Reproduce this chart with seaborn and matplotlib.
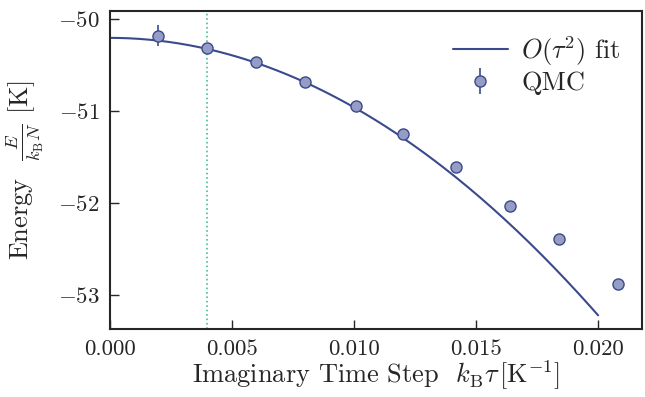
import numpy as np
import pandas as pd
import matplotlib
matplotlib.use('Agg')
import matplotlib.pyplot as plt
import seaborn as sns

# QMC energies vs imaginary time step
tau = [0.0020, 0.0040, 0.0060, 0.0080, 0.0101, 0.0120, 0.0142, 0.0164, 0.0184, 0.0208]
energy = [-50.18, -50.31, -50.47, -50.68, -50.95, -51.25, -51.61, -52.03, -52.39, -52.88]
energy_err = [0.11, 0.03, 0.03, 0.03, 0.03, 0.03, 0.03, 0.03, 0.03, 0.03]

# O(tau^2) fit: E = e0 + c2 * tau^2, drawn up to tau = 0.020
fit_e0 = -50.205
fit_c2 = -7540.0
fit_tau_max = 0.020
tau_chosen = 0.004

sns.set_style('ticks')
plt.rcParams['font.family'] = ['serif']
plt.rcParams['font.serif'] = ['cmr10', 'DejaVu Serif']
plt.rcParams['mathtext.fontset'] = 'cm'
plt.rcParams['axes.formatter.use_mathtext'] = True
plt.rcParams['axes.unicode_minus'] = True

line_col = '#3a4a8c'
fill_col = '#959cc6'

fig = plt.figure(figsize=(6.45, 3.97), dpi=100)
ax = fig.add_axes([0.1698, 0.1705, 0.8257, 0.8025])

tt = np.linspace(0, fit_tau_max, 200)
fit_df = pd.DataFrame({'tau': tt, 'E': fit_e0 + fit_c2 * tt**2})
sns.lineplot(data=fit_df, x='tau', y='E', ax=ax, color=line_col, lw=1.5,
             label=r'$O(\tau^2)$ fit')

ax.axvline(tau_chosen, color='#4dbb9a', ls=':', lw=1.2, zorder=1)

ax.errorbar(tau, energy, yerr=energy_err, fmt='o', ms=8, mfc=fill_col,
            mec=line_col, mew=1.0, ecolor=line_col, elinewidth=1.2,
            capsize=0, label='QMC', zorder=3)

ax.set_xlim(0, 0.0218)
ax.set_ylim(-53.373, -49.91)
ax.set_xticks([0.000, 0.005, 0.010, 0.015, 0.020])
ax.set_xticklabels(['0.000', '0.005', '0.010', '0.015', '0.020'])
ax.set_yticks([-50, -51, -52, -53])

ax.tick_params(direction='in', length=6.5, width=1.0, labelsize=16.5, pad=7)
for s in ax.spines.values():
    s.set_linewidth(1.5)

ax.set_xlabel(r'Imaginary Time Step  $k_{\rm B}\tau\,[{\rm K}^{-1}]$', fontsize=19, labelpad=0)
ax.set_ylabel(r'Energy  $\frac{E}{k_{\rm B}N}$ [K]', fontsize=19, labelpad=9)

ax.legend(loc='upper right', frameon=False, fontsize=19, handlelength=2.1,
          handletextpad=0.5, labelspacing=0.15,
          borderaxespad=0.3, bbox_to_anchor=(0.995, 0.985))

fig.savefig('out.png', dpi=100)
